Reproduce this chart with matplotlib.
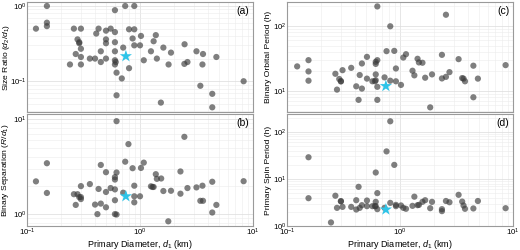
import matplotlib
matplotlib.use("Agg")
import matplotlib.pyplot as plt
import numpy as np

plt.rcParams['font.family'] = ['Liberation Sans', 'DejaVu Sans']
plt.rcParams['mathtext.fontset'] = 'custom'
plt.rcParams['mathtext.rm'] = 'Liberation Sans'
plt.rcParams['mathtext.it'] = 'Liberation Sans:italic'

# (a) size ratio vs primary diameter
d_a = [0.12, 0.150, 0.150, 0.150, 0.24, 0.26, 0.27, 0.28, 0.29, 0.29, 0.30, 0.30, 0.30, 0.30,
       0.36, 0.40, 0.41, 0.43, 0.45, 0.45, 0.50, 0.50, 0.50, 0.50, 0.55, 0.60, 0.60, 0.60, 0.60,
       0.60, 0.60, 0.61, 0.62, 0.62, 0.69, 0.71, 0.74, 0.80, 0.80, 0.86, 0.89, 0.89, 0.89, 1.0,
       1.02, 1.08, 1.25, 1.32, 1.38, 1.41, 1.53, 1.61, 1.79, 1.88, 2.47, 2.48, 2.63, 3.16, 3.42,
       3.57, 3.61, 4.36, 4.36, 4.74, 8.26]
q_a = [0.50, 1.0, 0.60, 0.54, 0.167, 0.5, 0.23, 0.36, 0.32, 0.33, 0.5, 0.27, 0.21, 0.167,
       0.20, 0.20, 0.43, 0.5, 0.25, 0.18, 0.47, 0.32, 0.36, 0.20, 0.5, 0.88, 0.45, 0.33, 0.25,
       0.19, 0.167, 0.18, 0.13, 0.065, 0.109, 0.28, 1.0, 0.149, 0.49, 0.37, 1.0, 0.49, 0.30, 0.30,
       0.40, 0.19, 0.25, 0.34, 0.41, 0.20, 0.052, 0.28, 0.167, 0.24, 0.17, 0.31, 0.18, 0.25, 0.087,
       0.167, 0.23, 0.068, 0.045, 0.21, 0.10]

# (b) binary separation vs primary diameter
d_b = [0.12, 0.150, 0.150, 0.26, 0.27, 0.28, 0.29, 0.30, 0.30, 0.30, 0.36, 0.40, 0.42, 0.43,
       0.45, 0.45, 0.50, 0.50, 0.50, 0.55, 0.60, 0.60, 0.60, 0.60, 0.60, 0.62, 0.62, 0.62, 0.74,
       0.71, 0.79, 0.86, 0.89, 0.89, 0.89, 1.0, 1.02, 1.08, 1.25, 1.29, 1.32, 1.38, 1.41, 1.54,
       1.61, 1.78, 1.88, 2.28, 2.28, 2.47, 2.63, 3.16, 3.42, 3.57, 3.61, 4.36, 4.36, 4.74, 8.26]
r_b = [2.21, 3.43, 1.67, 1.62, 1.25, 1.62, 1.51, 1.97, 1.51, 1.44, 2.07, 1.26, 1.0, 1.84,
       3.29, 1.29, 2.76, 1.71, 1.18, 1.88, 2.45, 2.31, 1.82, 1.40, 1.0, 9.5, 0.99, 2.74, 3.56,
       1.68, 5.45, 3.04, 1.99, 1.54, 1.33, 1.54, 3.06, 3.48, 1.96, 1.93, 1.93, 2.63, 2.35, 2.37,
       1.75, 0.84, 1.76, 1.64, 2.81, 6.5, 1.88, 1.91, 1.38, 1.99, 1.38, 2.19, 1.04, 1.25, 2.22]

# (c) binary orbital period vs primary diameter
d_c = [0.123, 0.155, 0.155, 0.155, 0.268, 0.277, 0.29, 0.30, 0.30, 0.31, 0.37, 0.41, 0.43, 0.44,
       0.46, 0.46, 0.51, 0.51, 0.57, 0.60, 0.61, 0.61, 0.61, 0.61, 0.63, 0.63, 0.63, 0.63, 0.73,
       0.76, 0.82, 0.82, 0.89, 0.92, 0.92, 1.02, 1.07, 1.13, 1.29, 1.34, 1.43, 1.47, 1.58, 1.67,
       1.85, 1.92, 2.35, 2.35, 2.55, 2.55, 2.74, 3.30, 3.55, 3.65, 3.76, 4.46, 4.46, 4.89, 8.6]
p_c = [23.9, 29.8, 20.0, 14.4, 18.4, 10.5, 15.3, 14.2, 14.0, 20.9, 22.7, 11.8, 7.3, 17.6,
       10.9, 26.5, 33.5, 15.5, 14.1, 14.1, 14.6, 28.1, 26.1, 18.0, 29.8, 200, 11.6, 7.3, 16.2,
       41, 99, 14.4, 41.4, 14.1, 22.2, 12.4, 32.7, 36.8, 20.5, 17.4, 31.3, 27.5, 27.2, 16.0,
       5.6, 18.0, 36.0, 15.6, 149, 16.5, 19.5, 30.9, 15.8, 15.5, 14.1, 24.5, 8.0, 15.5, 25.0]

# (d) primary spin period vs primary diameter
d_d = [0.155, 0.155, 0.245, 0.268, 0.277, 0.30, 0.30, 0.31, 0.37, 0.41, 0.41, 0.43, 0.44, 0.46,
       0.51, 0.51, 0.57, 0.60, 0.61, 0.61, 0.61, 0.63, 0.63, 0.73, 0.76, 0.82, 0.82, 0.89, 0.92,
       0.92, 1.02, 1.07, 1.13, 1.29, 1.34, 1.43, 1.47, 1.58, 1.67, 1.85, 1.92, 2.35, 2.35, 2.55,
       2.74, 3.30, 3.55, 3.65, 3.76, 4.46, 4.89, 8.6]
s_d = [28.9, 3.9, 1.19, 4.4, 2.43, 3.36, 3.36, 2.55, 2.55, 3.53, 2.24, 6.8, 2.43, 2.77,
       3.48, 2.64, 2.64, 2.64, 13.7, 3.26, 2.64, 5.0, 2.28, 2.43, 38.5, 168, 3.1, 19.9, 2.64,
       2.81, 2.73, 2.43, 2.32, 2.68, 4.2, 2.77, 2.81, 3.26, 3.53, 2.39, 3.26, 2.28, 2.07, 3.4,
       3.2, 4.6, 3.3, 2.73, 2.32, 2.36, 3.4, 2.39]

# highlighted system (star)
star_d = 0.75
star_vals = [0.215, 1.54, 11.9, 2.24]

panels = [
    (d_a, q_a, r'Size Ratio ($d_2/d_1$)', (0.039, 1.13), '(a)'),
    (d_b, r_b, r'Binary Separation ($R/d_1$)', (0.75, 11.3), '(b)'),
    (d_c, p_c, 'Binary Orbital Period (h)', (4.75, 234), '(c)'),
    (d_d, s_d, 'Primary Spin Period (h)', (1.0, 240), '(d)'),
]

fig = plt.figure(figsize=(5.2, 2.5), dpi=100)
W, H = 520, 250
boxes = [(27, 2, 253, 112), (27, 114, 253, 226), (287, 2, 513, 112), (287, 114, 513, 226)]

for i, (xs, ys, ylab, ylim, tag) in enumerate(panels):
    x0, y0, x1, y1 = boxes[i]
    ax = fig.add_axes([x0 / W, 1 - y1 / H, (x1 - x0) / W, (y1 - y0) / H])
    ax.scatter(xs, ys, s=20, color='#3a3a3a', alpha=0.65, edgecolors='none', zorder=3)
    ax.scatter([star_d], [star_vals[i]], marker='*', s=85, color='#2ec4e8',
               edgecolors='none', zorder=4)
    ax.set_xscale('log')
    ax.set_yscale('log')
    ax.set_xlim(0.1, 10)
    ax.set_ylim(*ylim)
    ax.grid(True, which='major', color='#dcdcdc', lw=0.5)
    ax.grid(True, which='minor', color='#ececec', lw=0.4)
    ax.set_axisbelow(True)
    for sp in ax.spines.values():
        sp.set_color('#9a9a9a')
        sp.set_linewidth(0.8)
    ax.tick_params(which='both', length=0, labelsize=5.6, pad=0.6)
    ax.set_ylabel(ylab, fontsize=6.1)
    lx = (11.5 - x0) / (x1 - x0) if i < 2 else (272.5 - x0) / (x1 - x0)
    ax.yaxis.set_label_coords(lx, 0.5)
    ax.text(0.985, 0.96, tag, transform=ax.transAxes, ha='right', va='top', fontsize=7.5)
    if i in (0, 2):
        ax.tick_params(labelbottom=False)
    else:
        ax.set_xlabel(r'Primary Diameter, $d_1$ (km)', fontsize=6.5)
        ax.xaxis.set_label_coords(0.5, (y1 - 238) / (y1 - y0))

fig.savefig('out.png', dpi=100)
